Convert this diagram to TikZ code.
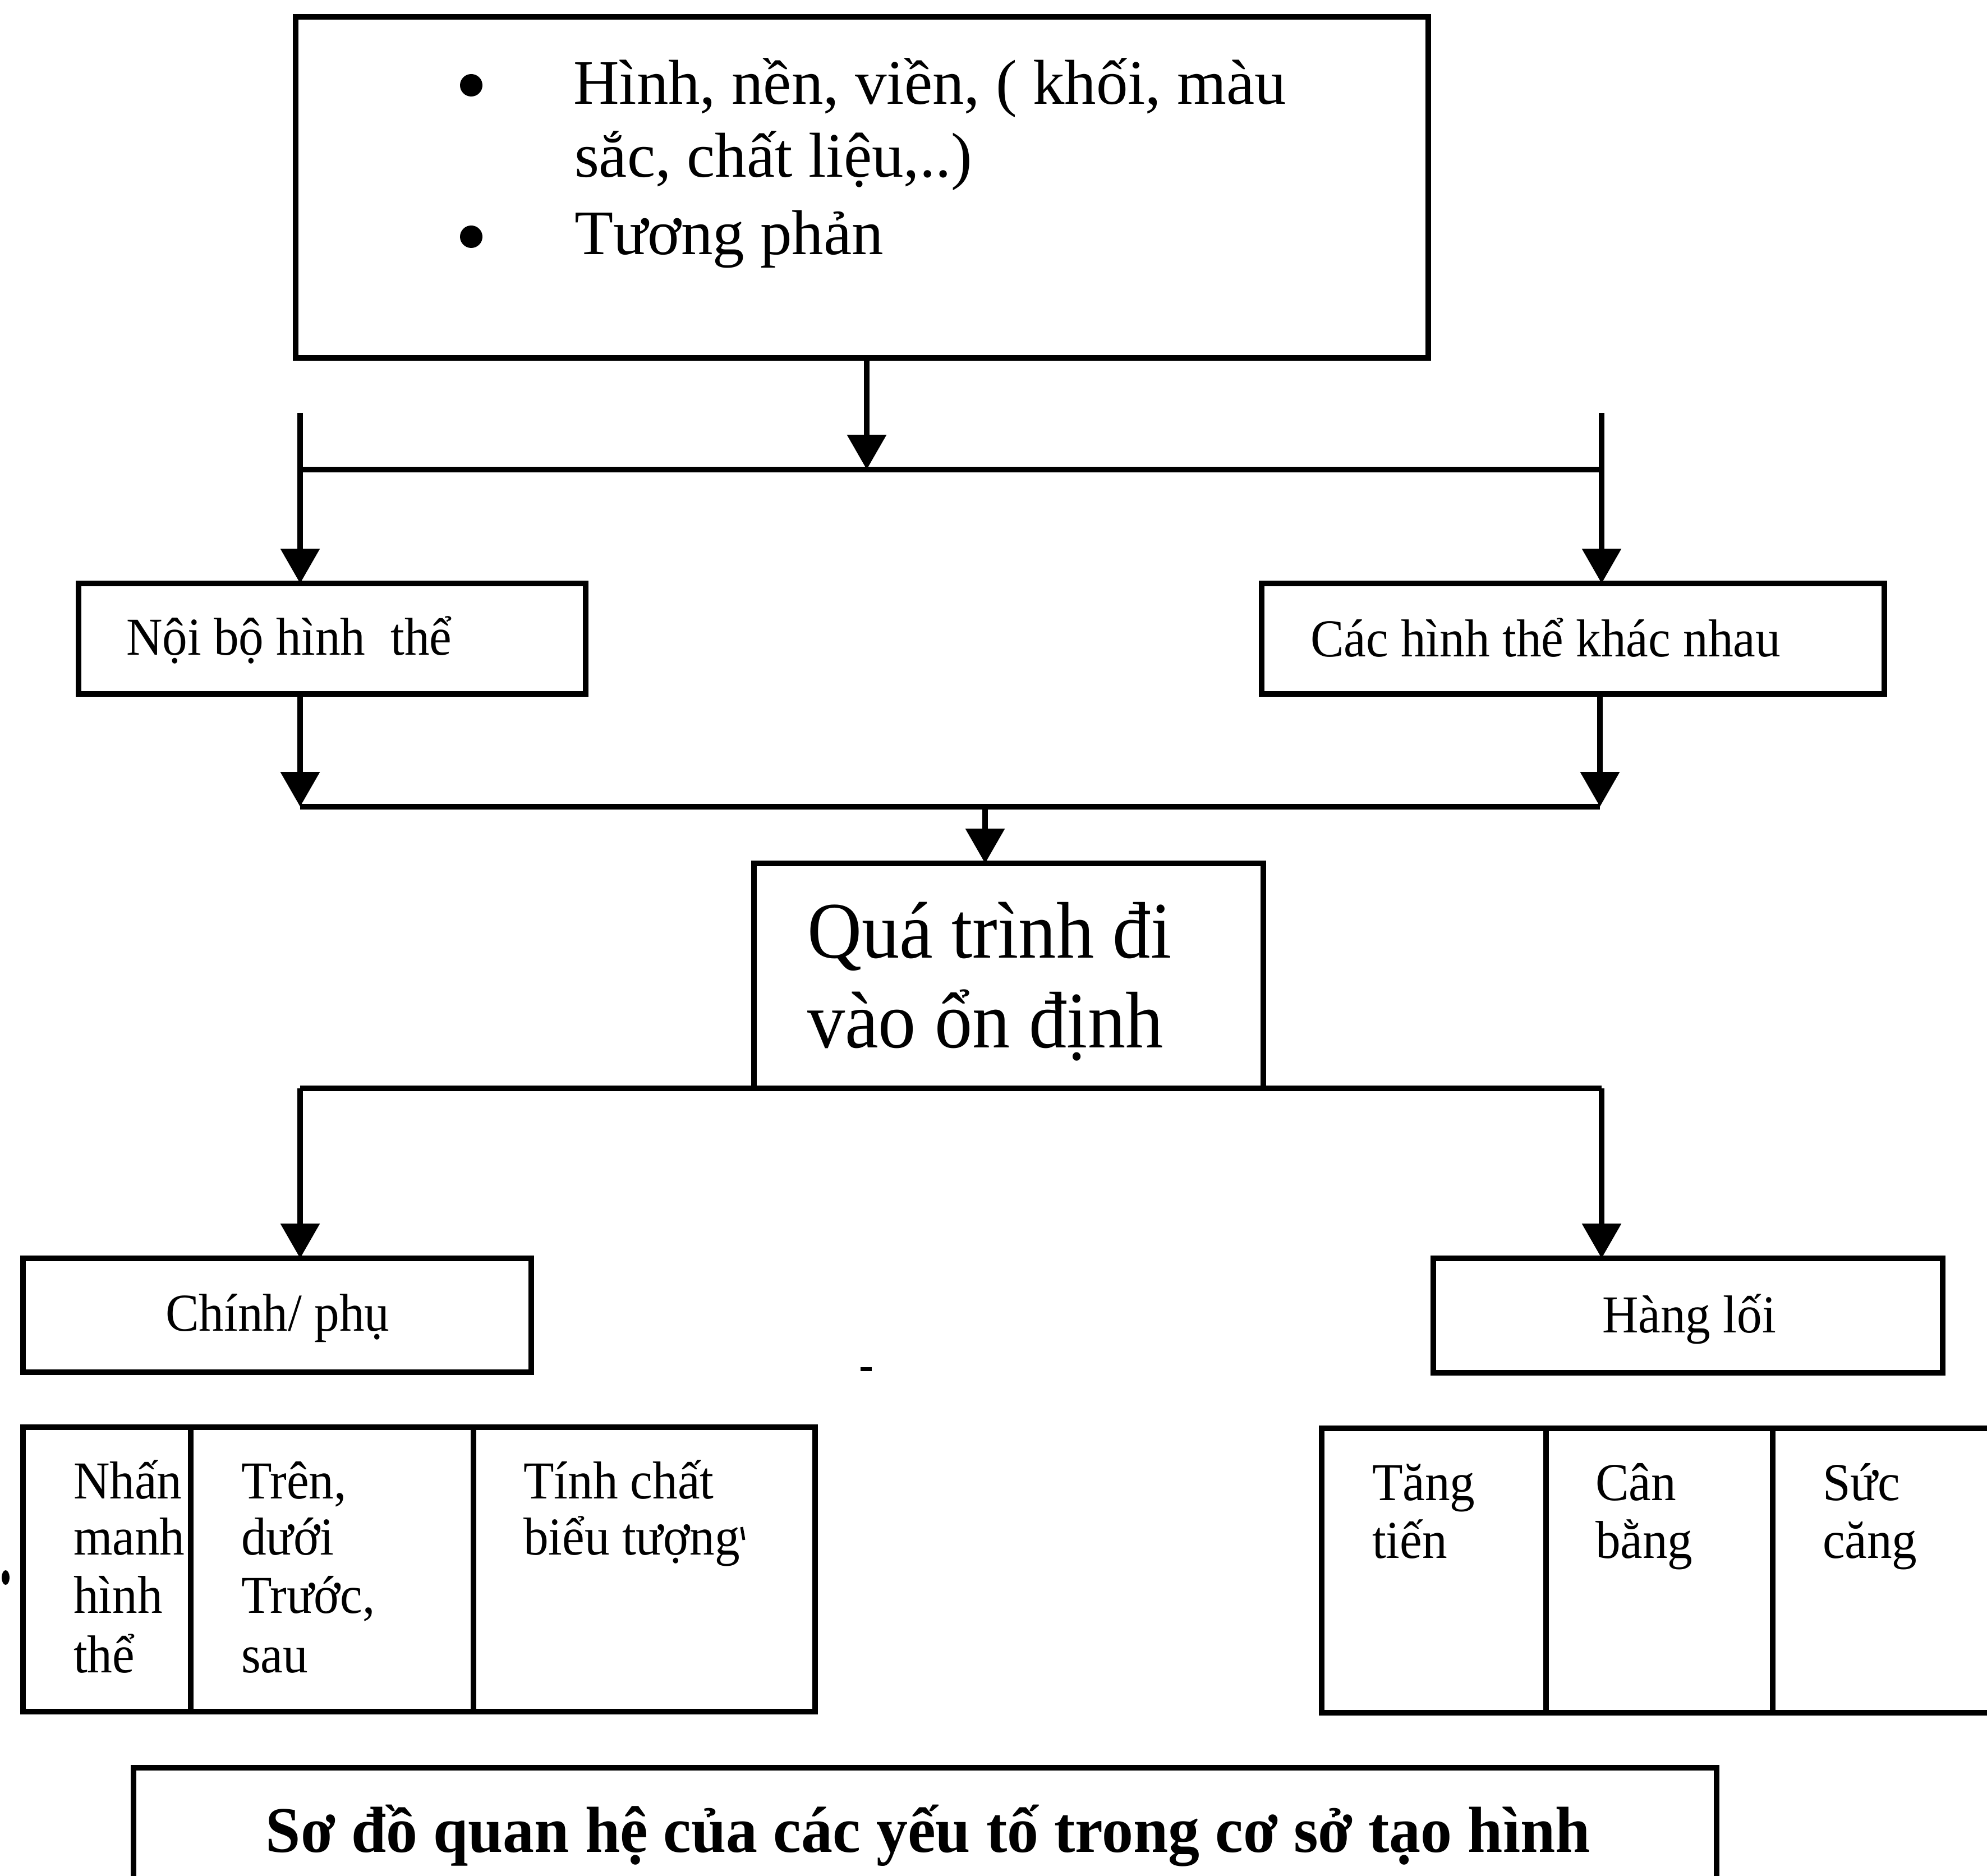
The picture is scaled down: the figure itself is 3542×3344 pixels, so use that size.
\documentclass[tikz,border=0pt]{standalone}
\usepackage{fontspec}
\setmainfont{Liberation Serif}
\newfontfamily\condfnt{Liberation Serif}[FakeStretch=0.94]
\newfontfamily\capfnt{Liberation Serif}[FakeStretch=0.965]
\usetikzlibrary{arrows.meta}
\tikzset{
  boxnode/.style={draw, line width=1pt, inner sep=0pt, outer sep=0pt, anchor=north west},
  txt/.style={inner sep=0pt, anchor=base west},
  toptxt/.style={txt, font=\fontsize{11.3}{13}\selectfont},
  smalltxt/.style={txt, font=\condfnt\fontsize{9.5}{11}\selectfont},
  midtxt/.style={txt, font=\condfnt\fontsize{14.3}{16}\selectfont},
  captxt/.style={txt, font=\capfnt\bfseries\fontsize{11.6}{13}\selectfont},
  link/.style={line width=1pt},
  arr/.style={line width=1pt, -{Triangle[width=6.8pt,length=6.2pt]}}
}
\begin{document}
\begin{tikzpicture}[x=0.1pt,y=-0.1pt]
\path[use as bounding box] (0,0) rectangle (3542,3344);
\clip (0,0) rectangle (3542,3344);
% boxes
\node[boxnode, minimum width=201.9pt, minimum height=60.8pt] (top) at (527,30) {};
\node[boxnode, minimum width=90.4pt, minimum height=19.7pt] (nb) at (140,1040) {};
\node[boxnode, minimum width=111pt, minimum height=19.7pt] (cac) at (2249,1040) {};
\node[boxnode, minimum width=90.8pt, minimum height=40.1pt] (mid) at (1344,1539) {};
\node[boxnode, minimum width=90.6pt, minimum height=20.3pt] (chinh) at (41,2243) {};
\node[boxnode, minimum width=90.8pt, minimum height=20.4pt] (hang) at (2555,2243) {};
% left table
\node[boxnode, minimum width=29.9pt, minimum height=50.7pt] (lc1) at (41,2544) {};
\node[boxnode, minimum width=50.4pt, minimum height=50.7pt] (lc2) at (340,2544) {};
\node[boxnode, minimum width=60.9pt, minimum height=50.7pt] (lc3) at (844,2544) {};
% right table
\node[boxnode, minimum width=40pt, minimum height=50.7pt] (rc1) at (2356,2546) {};
\node[boxnode, minimum width=40.4pt, minimum height=50.7pt] (rc2) at (2756,2546) {};
\node[boxnode, minimum width=46pt, minimum height=50.7pt] (rc3) at (3160,2546) {};
% caption box
\node[boxnode, minimum width=282.2pt, minimum height=30pt] (cap) at (238,3151) {};
% texts
\fill (840,152) circle[radius=20];
\fill (840,422) circle[radius=20];
\node[toptxt] (t1) at (1020,186) {Hình, nền, viền, ( khối, màu};
\node[toptxt] (t2) at (1022,316) {sắc, chất liệu,..)};
\node[toptxt] (t3) at (1022,454) {Tương phản};
\node[smalltxt] (nbt) at (223,1168) {Nội bộ hình\ \ thể};
\node[smalltxt] (cact) at (2334,1170) {Các hình thể khác nhau};
\node[midtxt] (midt1) at (1437,1707) {Quá trình đi};
\node[midtxt] (midt2) at (1437,1867) {vào ổn định};
\node[smalltxt] (chinht) at (293,2372) {Chính/ phụ};
\node[smalltxt] (hangt) at (2854,2375) {Hàng lối};
\node[smalltxt] (a1) at (129,2671) {Nhấn};
\node[smalltxt] (a2) at (129,2771) {manh};
\node[smalltxt] (a3) at (129,2875) {hình};
\node[smalltxt] (a4) at (129,2981) {thể};
\node[smalltxt] (b1) at (428,2671) {Trên,};
\node[smalltxt] (b2) at (428,2771) {dưới};
\node[smalltxt] (b3) at (428,2875) {Trước,};
\node[smalltxt] (b4) at (428,2981) {sau};
\node[smalltxt] (c1) at (931,2671) {Tính chất};
\node[smalltxt] (c2) at (931,2771) {biểu tượng};
\node[smalltxt] (d1) at (2444,2674) {Tăng};
\node[smalltxt] (d2) at (2444,2777) {tiến};
\node[smalltxt] (e1) at (2842,2674) {Cân};
\node[smalltxt] (e2) at (2842,2777) {bằng};
\node[smalltxt] (f1) at (3247,2674) {Sức};
\node[smalltxt] (f2) at (3247,2777) {căng};
\node[captxt] (capt) at (472,3301) {Sơ đồ quan hệ của các yếu tố trong cơ sở tạo hình};
% connector coordinates
\coordinate (j1) at (1545,837);
\coordinate (hL1) at (535,837);
\coordinate (hR1) at (2855,837);
\coordinate (vL) at (535,736);
\coordinate (vR) at (2855,736);
\coordinate (hL2) at (535,1438);
\coordinate (hR2) at (2852,1438);
\coordinate (j2) at (1756,1438);
\coordinate (hL3) at (535,1940);
\coordinate (hR3) at (2855,1940);
% connectors
\draw[arr] (top.south -| j1) -- (j1);
\draw[link] (hL1) -- (hR1);
\draw[arr] (vL) -- (vL |- nb.north);
\draw[arr] (vR) -- (vR |- cac.north);
\draw[arr] (nb.south -| hL2) -- (hL2);
\draw[arr] (cac.south -| hR2) -- (hR2);
\draw[link] (hL2) -- (hR2);
\draw[arr] (j2) -- (j2 |- mid.north);
\draw[link] (hL3) -- (hR3);
\draw[arr] (hL3) -- (hL3 |- chinh.north);
\draw[arr] (hR3) -- (hR3 |- hang.north);
% stray marks of the scan
\draw[line width=0.7pt] (1534,2440) -- (1554,2440);
\fill (10,2812) ellipse[x radius=7, y radius=13];
\draw[line width=0.5pt] (1322,2722) -- (1326,2745);
\end{tikzpicture}
\end{document}
